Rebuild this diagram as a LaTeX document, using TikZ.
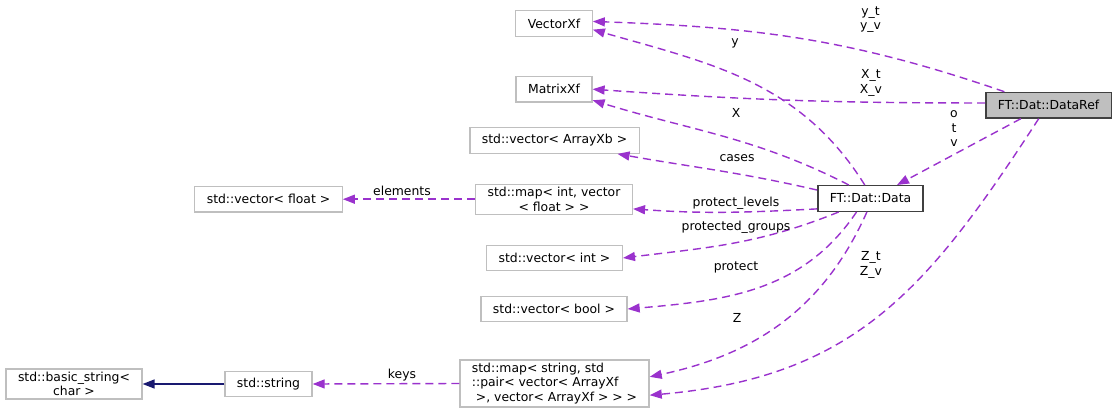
\documentclass[tikz,border=0pt]{standalone}
\usepackage{fontspec}
\setmainfont{DejaVu Sans}
\usetikzlibrary{arrows.meta}
\definecolor{linkpurple}{HTML}{9A32CD}
\definecolor{basenavy}{HTML}{191970}
\definecolor{boxgrey}{HTML}{BFBFBF}
\definecolor{boxedge}{HTML}{404040}
\newcommand{\gfont}{\fontsize{12.4}{14.5}\selectfont}
\tikzset{
  cls/.style    = {rectangle, draw=boxgrey, line width=1.3pt, fill=white,
                   inner xsep=12pt, inner ysep=3pt, minimum height=25.5pt,
                   align=center, font=\gfont},
  member/.style = {cls, draw=boxedge, line width=1.5pt},
  focus/.style  = {cls, draw=boxedge, line width=1.5pt, fill=boxgrey},
  lbl/.style    = {inner sep=0pt, align=center, font=\gfont},
  dep/.style    = {-{Triangle[length=12pt,width=9pt]}, draw=linkpurple, line width=1.4pt,
                   dash pattern=on 8pt off 5pt},
  inh/.style    = {-{Triangle[length=12pt,width=9pt]}, draw=basenavy, line width=1.4pt},
}
\begin{document}
\begin{tikzpicture}[x=1pt, y=1pt]
  \useasboundingbox (0,0) rectangle (1117,-417);

  % ----- classes -----
  \node[cls] (vecxf)   at (554,-23.5)   {VectorXf};
  \node[cls] (matxf)   at (554,-89.2)   {MatrixXf};
  \node[cls] (vecab)   at (554.5,-140.5) {std::vector< ArrayXb >};
  \node[cls] (mapint)  at (554,-199.2)  {std::map< int, vector\\< float > >};
  \node[cls] (vecflt)  at (268.5,-199.2) {std::vector< float >};
  \node[cls] (vecint)  at (554.5,-258)  {std::vector< int >};
  \node[cls] (vecbool) at (554,-309)    {std::vector< bool >};
  \node[cls, align=left] (mapstr) at (554.5,-383.5)
    {std::map< string, std\\::pair< vector< ArrayXf\\\hspace*{4pt}>, vector< ArrayXf > > >};
  \node[cls] (str)     at (268.5,-384)  {std::string};
  \node[cls] (bstr)    at (74,-384)     {std::basic\_string<\\char >};
  \node[member] (data) at (870.5,-198.5) {FT::Dat::Data};
  \node[focus] (dref)  at (1048.5,-105.2) {FT::Dat::DataRef};

  % ----- DataRef members -----
  \draw[dep] (dref.163) to[out=161, in=-2] (vecxf.3);
  \draw[dep] (dref.178) to[out=180, in=-4] (matxf.east);
  \draw[dep] (dref.206) -- (data.27);
  \draw[dep] (dref.234) to[out=237, in=5, looseness=1.1] (mapstr.-7);

  % ----- Data members -----
  \draw[dep] (data.113) to[out=122, in=-16] (vecxf.-9);
  \draw[dep] (data.148) to[out=153, in=-17] (matxf.-16);
  \draw[dep] (data.171) to[out=167, in=-10] (vecab.-12);
  \draw[dep] (data.191) to[out=183, in=-4] (mapint.-7);
  \draw[dep] (data.203) to[out=202, in=7] (vecint.east);
  \draw[dep] (data.224) to[out=236, in=5] (vecbool.east);
  \draw[dep] (data.255) to[out=246, in=12] (mapstr.4);

  % ----- std types -----
  \draw[dep] (mapint.west) -- (vecflt.east);
  \draw[dep] (mapstr.west) -- (str.east);
  \draw[inh] (str.west) -- (bstr.east);

  % ----- labels -----
  \node[lbl] (lyrefs) at (870.5,-19.5) {y\_t\\y\_v};
  \node[lbl] (lxrefs) at (871,-83)     {X\_t\\X\_v};
  \node[lbl] (lotv)   at (954,-129)    {o\\t\\v};
  \node[lbl] (lzrefs) at (871,-265)    {Z\_t\\Z\_v};
  \node[lbl] (ly)     at (735,-43)     {y};
  \node[lbl] (lx)     at (736,-113)    {X};
  \node[lbl] (lcases) at (737,-158)    {cases};
  \node[lbl] (llev)   at (736,-203)    {protect\_levels};
  \node[lbl] (lgrp)   at (736,-227)    {protected\_groups};
  \node[lbl] (lprot)  at (736,-267)    {protect};
  \node[lbl] (lz)     at (737,-318)    {Z};
  \node[lbl] (lelem)  at (402,-191)    {elements};
  \node[lbl] (lkeys)  at (402,-375)    {keys};
\end{tikzpicture}
\end{document}
